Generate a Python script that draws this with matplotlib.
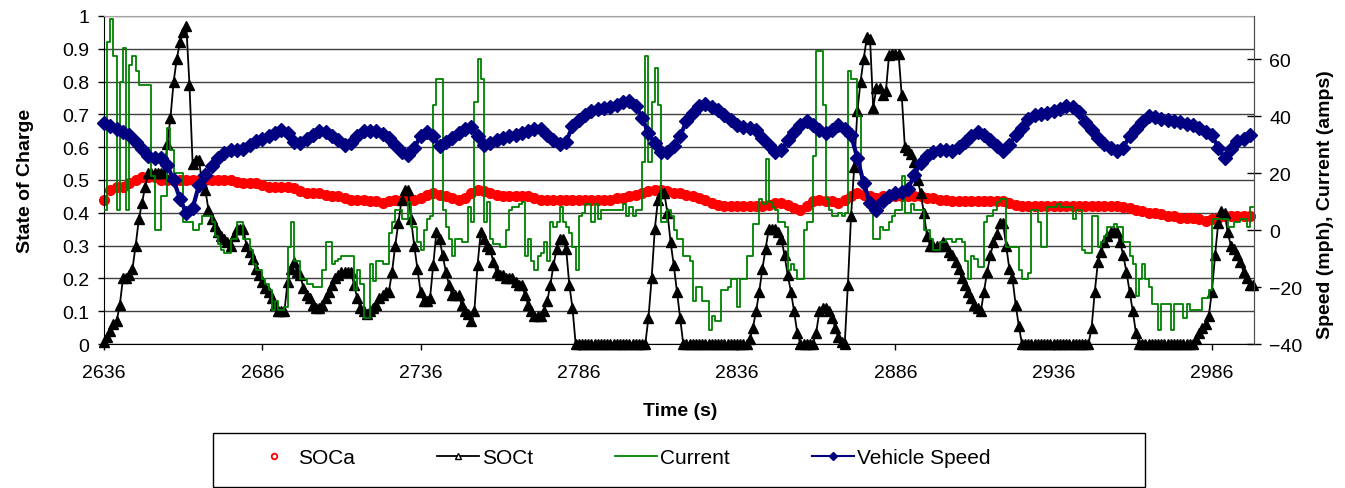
import numpy as np
import matplotlib
matplotlib.use("Agg")
import matplotlib.pyplot as plt
from matplotlib.lines import Line2D
from matplotlib.patches import Rectangle
from matplotlib.ticker import FuncFormatter

plt.rcParams['font.family'] = ['Liberation Sans', 'DejaVu Sans']

# ---------------- data ----------------
t_start = 2636
x_ticks = [2636, 2686, 2736, 2786, 2836, 2886, 2936, 2986]
soc_ticks = [0, 0.1, 0.2, 0.3, 0.4, 0.5, 0.6, 0.7, 0.8, 0.9, 1.0]
right_ticks = [-40, -20, 0, 20, 40, 60]
labels = ["SOCa", "SOCt", "Current", "Vehicle Speed"]

# SOCa, one sample every 2 s starting at 2636
soca = [
    0.44, 0.47, 0.48, 0.48, 0.49, 0.50, 0.51, 0.51, 0.51, 0.50,   # 2636
    0.50, 0.50, 0.50, 0.50, 0.50, 0.50, 0.50, 0.50, 0.50, 0.50,   # 2656
    0.50, 0.495, 0.49, 0.49, 0.49, 0.485, 0.48, 0.48, 0.48, 0.48,  # 2676
    0.475, 0.465, 0.46, 0.46, 0.46, 0.455, 0.45, 0.45, 0.445, 0.44,  # 2696
    0.44, 0.44, 0.435, 0.435, 0.43, 0.435, 0.44, 0.44, 0.44, 0.44,  # 2716
    0.445, 0.455, 0.46, 0.455, 0.45, 0.445, 0.44, 0.445, 0.46, 0.47,  # 2736
    0.465, 0.46, 0.455, 0.45, 0.45, 0.45, 0.45, 0.45, 0.445, 0.44,  # 2756
    0.44, 0.44, 0.44, 0.44, 0.44, 0.44, 0.44, 0.44, 0.44, 0.44,   # 2776
    0.44, 0.445, 0.445, 0.45, 0.455, 0.46, 0.465, 0.47, 0.47, 0.465,  # 2796
    0.46, 0.46, 0.455, 0.45, 0.445, 0.44, 0.43, 0.425, 0.42, 0.42,  # 2816
    0.42, 0.42, 0.42, 0.42, 0.42, 0.425, 0.43, 0.43, 0.425, 0.415,  # 2836
    0.41, 0.42, 0.435, 0.44, 0.435, 0.435, 0.43, 0.44, 0.45, 0.46,  # 2856
    0.455, 0.45, 0.445, 0.45, 0.45, 0.45, 0.45, 0.45, 0.45, 0.45,  # 2876
    0.445, 0.445, 0.44, 0.44, 0.435, 0.435, 0.435, 0.435, 0.435, 0.435,  # 2896
    0.435, 0.435, 0.435, 0.43, 0.425, 0.42, 0.42, 0.42, 0.42, 0.42,  # 2916
    0.42, 0.42, 0.42, 0.42, 0.42, 0.42, 0.42, 0.42, 0.42, 0.42,   # 2936
    0.42, 0.418, 0.415, 0.41, 0.405, 0.40, 0.40, 0.395, 0.39, 0.39,  # 2956
    0.385, 0.385, 0.385, 0.38, 0.375, 0.38, 0.385, 0.39, 0.39, 0.39,  # 2976
    0.39, 0.39,                                                      # 2996
]

# SOCt, one sample every second starting at 2636
soct = [
    0.005, 0.02, 0.04, 0.06, 0.07, 0.12, 0.20, 0.20, 0.21, 0.23,   # 2636
    0.30, 0.38, 0.43, 0.48, 0.52, 0.52, 0.52, 0.52, 0.52, 0.52,    # 2646
    0.61, 0.69, 0.80, 0.87, 0.92, 0.95, 0.97, 0.79, 0.55, 0.56,    # 2656
    0.56, 0.49, 0.47, 0.41, 0.38, 0.36, 0.34, 0.33, 0.32, 0.31,    # 2666
    0.30, 0.33, 0.35, 0.35, 0.35, 0.30, 0.28, 0.26, 0.23, 0.21,    # 2676
    0.19, 0.17, 0.16, 0.14, 0.12, 0.10, 0.10, 0.10, 0.19, 0.23,    # 2686
    0.25, 0.22, 0.21, 0.17, 0.15, 0.14, 0.12, 0.11, 0.11, 0.12,    # 2696
    0.14, 0.16, 0.18, 0.20, 0.21, 0.22, 0.22, 0.22, 0.22, 0.18,    # 2706
    0.14, 0.11, 0.10, 0.09, 0.10, 0.11, 0.12, 0.14, 0.15, 0.16,    # 2716
    0.16, 0.22, 0.30, 0.37, 0.44, 0.47, 0.47, 0.38, 0.30, 0.23,    # 2726
    0.16, 0.13, 0.13, 0.14, 0.24, 0.34, 0.32, 0.27, 0.22, 0.18,    # 2736
    0.15, 0.15, 0.15, 0.12, 0.10, 0.09, 0.07, 0.10, 0.24, 0.34,    # 2746
    0.32, 0.30, 0.29, 0.25, 0.22, 0.21, 0.21, 0.20, 0.20, 0.20,    # 2756
    0.19, 0.18, 0.18, 0.15, 0.12, 0.10, 0.085, 0.085, 0.085, 0.10,  # 2766
    0.13, 0.18, 0.24, 0.29, 0.32, 0.32, 0.29, 0.18, 0.11, 0.0,     # 2776
    0, 0, 0, 0, 0, 0, 0, 0, 0, 0,                                   # 2786
    0, 0, 0, 0, 0, 0, 0, 0, 0, 0,                                   # 2796
    0, 0, 0.08, 0.20, 0.35, 0.44, 0.46, 0.46, 0.40, 0.31,          # 2806
    0.24, 0.16, 0.08, 0, 0, 0, 0, 0, 0, 0,                          # 2816
    0, 0, 0, 0, 0, 0, 0, 0, 0, 0,                                   # 2826
    0, 0, 0, 0, 0.015, 0.05, 0.10, 0.16, 0.23, 0.29,               # 2836
    0.35, 0.35, 0.35, 0.34, 0.32, 0.27, 0.21, 0.16, 0.10, 0.035,   # 2846
    0, 0, 0, 0, 0, 0.035, 0.10, 0.11, 0.11, 0.10,                  # 2856
    0.08, 0.05, 0.02, 0.005, 0, 0.18, 0.39, 0.54, 0.71, 0.80,      # 2866
    0.87, 0.935, 0.93, 0.72, 0.78, 0.78, 0.76, 0.77, 0.88, 0.885,  # 2876
    0.885, 0.885, 0.76, 0.60, 0.59, 0.58, 0.555, 0.50, 0.46, 0.40,  # 2886
    0.33, 0.30, 0.30, 0.30, 0.30, 0.31, 0.30, 0.28, 0.27, 0.25,    # 2896
    0.23, 0.20, 0.18, 0.16, 0.14, 0.12, 0.11, 0.10, 0.16, 0.22,    # 2906
    0.27, 0.31, 0.335, 0.37, 0.37, 0.30, 0.23, 0.20, 0.12, 0.055,  # 2916
    0, 0, 0, 0, 0, 0, 0, 0, 0, 0,                                   # 2926
    0, 0, 0, 0, 0, 0, 0, 0, 0, 0,                                   # 2936
    0, 0, 0.05, 0.16, 0.25, 0.28, 0.31, 0.33, 0.34, 0.34,          # 2946
    0.34, 0.31, 0.27, 0.22, 0.16, 0.10, 0.035, 0, 0, 0,            # 2956
    0, 0, 0, 0, 0, 0, 0, 0, 0, 0,                                   # 2966
    0, 0, 0, 0, 0, 0.015, 0.035, 0.05, 0.06, 0.085,                # 2976
    0.16, 0.27, 0.37, 0.405, 0.40, 0.34, 0.30, 0.29, 0.27, 0.25,   # 2986
    0.22, 0.20, 0.18, 0.18,                                         # 2996
]

# Current (amps), one sample every second starting at 2636
current = [
    7, 66, 74, 61, 7, 52, 64, 7, 58, 61,            # 2636
    56, 51, 51, 51, 51, 19, 0, 0, 12, 12,           # 2646
    36, 28, 20, 20, 20, 3, 3, 3, 0, 0,              # 2656
    2, 5, 5, 5, 3, -2, -5, -7, -8, -8,              # 2666
    -3, -3, 3, 3, -3, -3, -7, -12, -14, -14,        # 2676
    -17, -19, -21, -28, -25, -28, -28, -27, -6, 3,  # 2686
    -11, -11, -17, -17, -19, -19, -20, -20, -20, -14,  # 2696
    -4, -4, -12, -11, -10, -9, -9, -9, -9, -21,     # 2706
    -14, -19, -31, -31, -12, -18, -11, -11, -12, -12,  # 2716
    -1, 3, 7, 7, 4, 4, 10, 1, 1, -4,                # 2726
    -7, 0, 4, 5, 44, 53, 53, 7, 1, -3,              # 2736
    -9, -3, -3, -4, -4, 8, 3, 45, 60, 53,           # 2746
    3, 10, -3, -5, -5, -6, -6, 0, 7, 8,             # 2756
    8, 9, 10, -9, -3, -11, -14, -9, -8, -4,         # 2766
    -11, 3, 1, 3, 8, 3, 1, -1, -6, -14,             # 2776
    5, 6, 9, 9, 3, 9, 4, 7, 7, 7,                   # 2786
    7, 7, 7, 7, 9, 5, 8, 5, 7, 7,                   # 2796
    24, 61, 24, 45, 57, 44, 3, 3, 7, 5,             # 2806
    0, -3, -3, -9, -9, -11, -25, -20, -20, -25,     # 2816
    -25, -35, -30, -32, -32, -21, -21, -20, -17, -17,  # 2826
    -27, -17, -17, -9, -9, 2, 2, 11, 9, 25,         # 2836
    10, 8, 7, 3, 3, 1, -14, -12, -14, -17,          # 2846
    -17, 0, 3, 3, 26, 63, 63, 44, 11, 7,            # 2856
    5, 5, 6, 5, 6, 56, 53, 53, 40, 18,              # 2866
    18, 8, 8, -3, -3, 1, 0, 0, 3, 5,                # 2876
    7, 7, 19, 6, 6, 9, 7, 7, 7, 0,                  # 2886
    0, -3, -7, -7, -4, -4, -3, -3, -4, -3,          # 2896
    -3, -4, -11, -17, -9, -10, -13, -13, 3, 5,      # 2906
    5, 7, 10, 11, 11, -6, -6, -6, -6, -14,          # 2916
    -17, -17, -15, 7, 7, 3, -6, -6, 8, 8,           # 2926
    8, 9, 8, 8, 8, 8, 4, 7, 7, -7,                  # 2936
    -8, -8, 5, 5, -6, -4, -2, 1, 1, 2,              # 2946
    1, 1, -4, -4, -9, -12, -23, -17, -12, -17,      # 2956
    -20, -26, -26, -35, -26, -26, -26, -35, -26, -26,  # 2966
    -26, -31, -26, -28, -28, -28, -28, -24, -24, -21,  # 2976
    4, 4, 4, 4, 4, 1, 1, 3, 3, 4,                   # 2986
    4, 1, 8, 8,                                     # 2996
]

# Vehicle speed (mph), one sample every 2 s starting at 2636
speed = [
    37.5, 36.5, 35.5, 34.5, 33.3, 31, 28.5, 26, 25.3, 25.3,      # 2636
    22.8, 17.5, 11, 6, 7.7, 15.8, 19.3, 22.5, 25.3, 27,          # 2656
    28, 28, 28.5, 30, 31.2, 32, 33, 34, 35, 34,                  # 2676
    31, 30.5, 32, 33.5, 34.7, 34.5, 33, 31.5, 30, 30.5,          # 2696
    33, 34.7, 34.7, 34.7, 33.8, 32.5, 30, 27.5, 26.3, 29,        # 2716
    33, 34.5, 33, 29.5, 31, 32.5, 34, 35.5, 36.3, 33,            # 2736
    29.8, 30.5, 31.5, 32.3, 33, 33.5, 34, 34.8, 35.5, 35.5,      # 2756
    33.5, 31.5, 30.2, 31, 36.5, 38.5, 40.5, 41.8, 42.5, 43,      # 2776
    43.3, 44, 45, 45.3, 43.5, 39.5, 34, 30.5, 27.5, 27.5,        # 2796
    29.5, 33, 38.2, 41, 43.5, 44.2, 43.3, 42.3, 40.5, 38.5,      # 2816
    36.8, 36.3, 36, 35, 32.5, 30, 27.5, 28, 31.5, 34.5,          # 2836
    37, 38.2, 37, 35, 34, 35.3, 36.8, 35.5, 33.3, 25.3,          # 2856
    16.5, 9.5, 7, 10.2, 12, 13, 13.5, 14.5, 19.5, 23.5,          # 2876
    26, 27.5, 28, 28, 27.7, 29.3, 31, 33, 34.5, 33.5,            # 2896
    31.5, 29.5, 27.7, 30, 33.3, 36, 39, 40.3, 40.8, 41.3,        # 2916
    41.8, 42.7, 43.5, 43.3, 41.5, 38, 35, 32.5, 30.2, 28.8,      # 2936
    27.8, 29, 33, 35.5, 38, 40, 39.8, 39, 38.5, 38.2,            # 2956
    37.8, 37.3, 36.8, 35.8, 34.5, 33.3, 29, 25.3, 28.5, 31.2,    # 2976
    32, 33.3,                                                    # 2996
]

t1 = t_start + np.arange(len(soct))
t1c = t_start + np.arange(len(current))
t2 = t_start + 2 * np.arange(len(soca))
t2s = t_start + 2 * np.arange(len(speed))

# ---------------- figure ----------------
W, H = 1345, 489
fig = plt.figure(figsize=(W / 100, H / 100), dpi=100)
L, R, T, B = 104, 1254, 17, 345
ax = fig.add_axes([L / W, 1 - B / H, (R - L) / W, (B - T) / H])
ax2 = ax.twinx()

FS = 14
grid_c = '#404040'

ax.set_xlim(2636, 2999.3)
ax.set_ylim(0, 1)
ax2.set_ylim(-40, 75.2)

ax.set_yticks(soc_ticks)
ax.yaxis.set_major_formatter(FuncFormatter(lambda v, p: ('%g' % round(v, 1))))
ax.set_xticks(x_ticks)
ax.set_xticklabels([str(v) for v in x_ticks])
ax2.set_yticks(right_ticks)

ax.yaxis.grid(True, color=grid_c, lw=1.0)
ax.set_axisbelow(True)

ax.tick_params(axis='y', direction='out', length=4.5, width=1, pad=6, labelsize=FS)
ax.tick_params(axis='x', direction='out', length=4.5, width=1, pad=10, labelsize=FS)
ax2.tick_params(axis='y', direction='inout', length=10, width=1, pad=6, labelsize=FS)

for sp in ['left', 'bottom']:
    ax.spines[sp].set_color('black')
ax.spines['top'].set_color('#a6a6a6')
ax.spines['right'].set_color('#4d4d4d')
for sp in ['top', 'left', 'bottom']:
    ax2.spines[sp].set_visible(False)
ax2.spines['right'].set_color('#4d4d4d')

# series
ax.plot(t2, soca, ls='none', marker='o', ms=7, color='#ff0000', mec='#ff0000',
        clip_on=False, zorder=2)
ax.plot(t1, soct, color='black', lw=1.3, marker='^', ms=7.5, mec='black',
        clip_on=False, zorder=3)
ax2.plot(t1c, current, color='#008000', lw=1.3, drawstyle='steps-post', zorder=3)
ax2.plot(t2s, speed, color='#000080', lw=3.0, marker='D', ms=7.5, mec='#000080',
         clip_on=False, zorder=4)

# axis titles
fig.text(25 / W, 1 - 181 / H, 'State of Charge', rotation=90, ha='center', va='center',
         fontsize=FS, fontweight='bold')
fig.text(680 / W, 1 - 411 / H, 'Time (s)', ha='center', va='center',
         fontsize=FS, fontweight='bold')
fig.text(1326 / W, 1 - 205 / H, 'Speed (mph), Current (amps)', rotation=90,
         ha='center', va='center', fontsize=FS, fontweight='bold')

# legend
LFS = 15
handles = [
    Line2D([], [], ls='none', marker='o', ms=4, mfc='none', mec='#ff0000', mew=1.3),
    Line2D([], [], color='black', lw=1.3, marker='^', ms=5, mfc='white', mec='black'),
    Line2D([], [], color='#008000', lw=1.3),
    Line2D([], [], color='#000080', lw=1.5, marker='D', ms=4.5),
]
fig.legend(handles, labels, loc='center left', bbox_to_anchor=(253 / W, 1 - 459 / H),
           ncol=4, frameon=False, fontsize=LFS, handlelength=2.0, handletextpad=0.15,
           columnspacing=3.95, borderpad=0, borderaxespad=0)
fig.add_artist(Rectangle((213 / W, 1.5 / H), (1145 - 213) / W, (488 - 434) / H,
                         transform=fig.transFigure, fill=False, ec='black', lw=1))

fig.savefig('out.png', dpi=100)
